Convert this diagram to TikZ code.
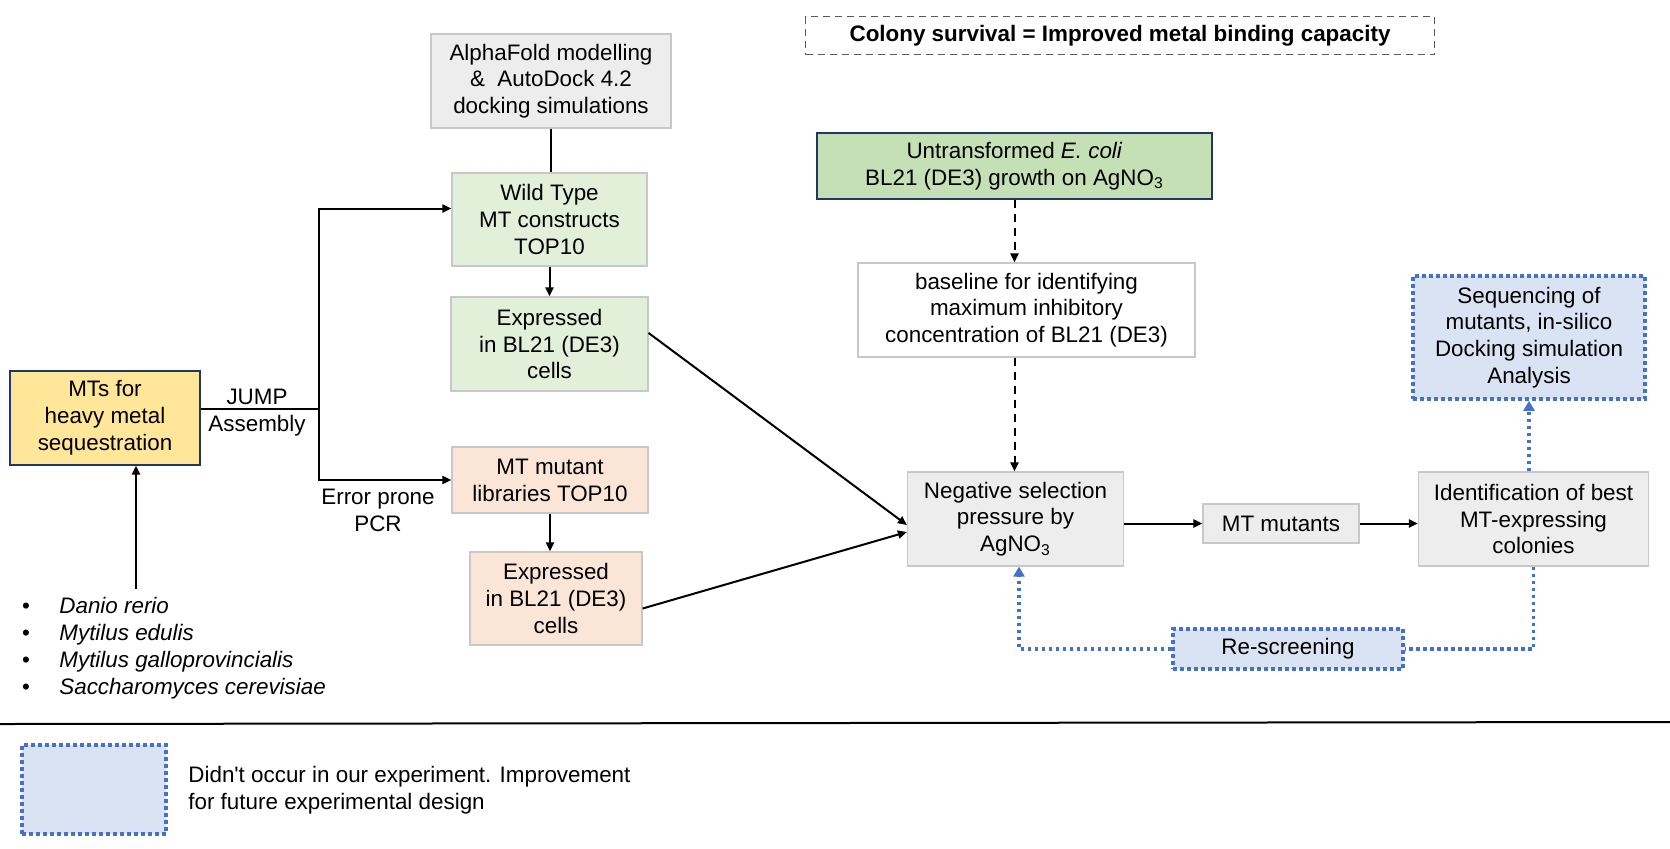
\documentclass[tikz,border=0pt]{standalone}
\usepackage{fontspec}
\setmainfont{Liberation Sans}
\usepackage{xcolor}
\usetikzlibrary{arrows.meta,positioning}
\definecolor{greyfill}{HTML}{EDEDED}
\definecolor{wtgreen}{HTML}{E2F0D9}
\definecolor{ecoligreen}{HTML}{C5E0B4}
\definecolor{peach}{HTML}{FBE5D6}
\definecolor{mtyellow}{HTML}{FFE699}
\definecolor{futureblue}{HTML}{DAE3F3}
\definecolor{dotblue}{HTML}{4472C4}
\definecolor{boxline}{HTML}{C8C8C8}
\definecolor{navy}{HTML}{1F3864}
\definecolor{titleline}{HTML}{595959}
\newcommand{\boxfont}{\fontsize{11.2}{13.4}\selectfont}

\begin{document}
\begin{tikzpicture}[x=0.5pt,y=-0.5pt,
	box/.style={draw=boxline, line width=0.6pt, align=center, inner sep=0pt, font=\boxfont},
	greybox/.style={box, fill=greyfill},
	wtbox/.style={box, fill=wtgreen},
	mutbox/.style={box, fill=peach},
	navybox/.style={box, draw=navy},
	futurebox/.style={box, fill=futureblue, draw=dotblue, line width=1.8pt, dash pattern=on 1.8pt off 1.7pt},
	lbl/.style={font=\boxfont, align=center, inner sep=0pt},
	arr/.style={line width=1pt, -{Triangle[length=4.5pt,width=4pt]}},
	dasharr/.style={line width=1pt, dash pattern=on 4pt off 3pt, -{Triangle[length=4.5pt,width=4pt]}},
	bluedot/.style={draw=dotblue, line width=1.8pt, dash pattern=on 1.8pt off 1.7pt},
	bluetip/.style={-{Triangle[length=5pt,width=5.5pt]}}
	]
	
	\useasboundingbox (0,0) rectangle (1670,848);
	
	% title
	\node[box, draw=titleline, line width=0.75pt, dash pattern=on 3.5pt off 2.5pt, minimum width=314.5pt, minimum height=19pt, font=\boxfont\bfseries] (title) at (1120,35.5) {Colony survival = Improved metal binding capacity};
	
	% left branch
	\node[navybox, fill=mtyellow, minimum width=95pt, minimum height=47pt] (mts) at (105,418) {MTs for\\heavy metal\\sequestration};
	\node[greybox, minimum width=120pt, minimum height=47pt] (alpha) at (551,81) {AlphaFold modelling\\\&\ \ AutoDock 4.2\\docking simulations};
	\node[wtbox, minimum width=97.5pt, minimum height=46.5pt] (wt) at (549.5,219.5) {Wild Type\\MT constructs\\TOP10};
	\node[wtbox, minimum width=98.5pt, minimum height=47pt] (exp1) at (549.5,344) {Expressed\\in BL21 (DE3)\\cells};
	\node[mutbox, minimum width=98pt, minimum height=33pt] (mut) at (550,480) {MT mutant\\libraries TOP10};
	\node[mutbox, minimum width=86pt, minimum height=46.5pt] (exp2) at (556,598.5) {Expressed\\in BL21 (DE3)\\cells};
	
	\node[lbl] (jump) at (257,413) {JUMP\\Assembly};
	\node[lbl] (epcr) at (378,510) {Error prone\\PCR};
	
	% species
	\foreach \sp [count=\i] in {Danio rerio, Mytilus edulis, Mytilus galloprovincialis, Saccharomyces cerevisiae} {
		\node[lbl, anchor=base] (bl\i) at (26,586+27*\i) {\textbullet};
		\node[lbl, anchor=base west] (sp\i) at (59,586+27*\i) {\itshape\sp};
	}
	\coordinate (src) at (136,589);
	
	% right branch
	\node[navybox, fill=ecoligreen, minimum width=197.5pt, minimum height=33pt] (untr) at (1014.5,166) {Untransformed \textit{E. coli}\\BL21 (DE3) growth on AgNO\textsubscript{3}};
	\node[box, minimum width=168.5pt, minimum height=47pt] (base) at (1026.5,310) {baseline for identifying\\maximum inhibitory\\concentration of BL21 (DE3)};
	\node[greybox, minimum width=108pt, minimum height=47pt] (neg) at (1015.5,519) {Negative selection\\pressure by\\AgNO\textsubscript{3}};
	\node[greybox, minimum width=78pt, minimum height=19.5pt] (mtm) at (1281,523.5) {MT mutants};
	\node[greybox, minimum width=115pt, minimum height=47pt] (ident) at (1533.5,519) {Identification of best\\MT-expressing\\colonies};
	\node[futurebox, minimum width=116pt, minimum height=61.5pt] (seq) at (1529,337.5) {Sequencing of\\mutants, in-silico\\Docking simulation\\Analysis};
	\node[futurebox, minimum width=115pt, minimum height=20pt] (resc) at (1288,649) {Re-screening};
	
	% connectors
	\coordinate (jn) at (319,409);
	\draw[line width=1pt] ([yshift=4.5pt]mts.east) -- (jn);
	\draw[arr] (jn) |- ([yshift=5.5pt]wt.west);
	\draw[arr] (jn) |- (mut.west);
	\draw[line width=1pt] (alpha.south) -- (alpha.south |- wt.north);
	\draw[arr] (wt.south) -- (exp1.north);
	\draw[arr] (mut.south) -- (mut.south |- exp2.north);
	\draw[arr] (src) -- (src |- mts.south);
	\draw[arr] ([yshift=5.5pt]exp1.east) -- ([yshift=-3pt]neg.west);
	\draw[arr] ([yshift=-5pt]exp2.east) -- ([yshift=-6.5pt]neg.west);
	
	\draw[dasharr] (untr.south) -- (untr.south |- base.north);
	\draw[dasharr] (untr.south |- base.south) -- (untr.south |- neg.north);
	\draw[arr] (neg.east |- mtm.west) -- (mtm.west);
	\draw[arr] (mtm.east) -- (mtm.east -| ident.west);
	
	\draw[bluedot, bluetip] (seq.south |- ident.north) -- (seq.south);
	\draw[bluedot] (ident.south) |- (resc.east);
	\draw[bluedot, bluetip] (resc.west) -| ([xshift=1.75pt]neg.south);
	
	% legend
	\coordinate (hl) at (0,724);
	\coordinate (hr) at (1670,722);
	\draw[line width=1pt] (hl) -- (hr);
	\node[futurebox, minimum width=72pt, minimum height=44.5pt] (legend) at (94,789.5) {};
	\node[lbl, anchor=west, align=left] (legtxt) at (188,790.5) {Didn\textquotesingle t occur in our experiment. Improvement\\for future experimental design};
	
\end{tikzpicture}
\end{document}
